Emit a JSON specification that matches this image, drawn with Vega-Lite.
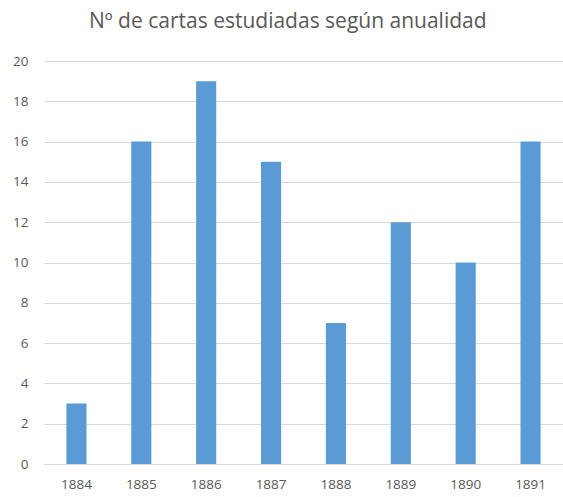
{
  "$schema": "https://vega.github.io/schema/vega-lite/v6.json",
  "width": 519,
  "height": 403,
  "autosize": {"type": "none"},
  "padding": {"left": 44, "top": 61, "right": 0, "bottom": 33},
  "background": "white",
  "title": {
    "text": "Nº de cartas estudiadas según anualidad",
    "font": "Open Sans",
    "fontSize": 21,
    "fontWeight": "normal",
    "color": "#595959",
    "anchor": "middle",
    "frame": "bounds",
    "offset": 22
  },
  "data": {
    "values": [
      {"year": "1884", "n": 3},
      {"year": "1885", "n": 16},
      {"year": "1886", "n": 19},
      {"year": "1887", "n": 15},
      {"year": "1888", "n": 7},
      {"year": "1889", "n": 12},
      {"year": "1890", "n": 10},
      {"year": "1891", "n": 16}
    ]
  },
  "mark": {"type": "bar", "color": "#5B9BD5"},
  "encoding": {
    "x": {
      "field": "year",
      "type": "nominal",
      "title": null,
      "scale": {"paddingInner": 0.69, "paddingOuter": 0.345},
      "axis": {
        "labelAngle": 0,
        "labelFont": "Open Sans",
        "labelFontSize": 13.5,
        "labelColor": "#595959",
        "ticks": false,
        "domainColor": "#d9d9d9",
        "labelPadding": 13,
        "grid": false
      }
    },
    "y": {
      "field": "n",
      "type": "quantitative",
      "title": null,
      "scale": {"domain": [0, 20]},
      "axis": {
        "values": [0, 2, 4, 6, 8, 10, 12, 14, 16, 18, 20],
        "labelFont": "Open Sans",
        "labelFontSize": 13.5,
        "labelColor": "#595959",
        "ticks": false,
        "domain": false,
        "gridColor": "#d9d9d9",
        "labelPadding": 16
      }
    }
  },
  "config": {"view": {"stroke": null}}
}
